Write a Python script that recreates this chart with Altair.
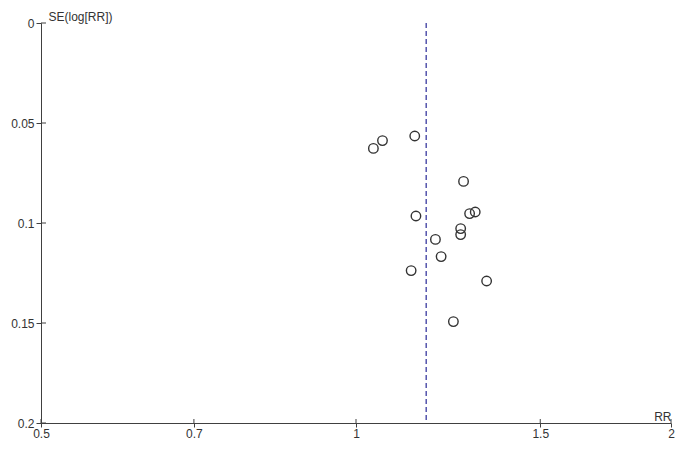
import altair as alt
import pandas as pd

rr = [1.039, 1.060, 1.138, 1.267, 1.141, 1.284, 1.300, 1.259, 1.259, 1.191, 1.206, 1.129, 1.333, 1.239]
se = [0.0627, 0.0588, 0.0565, 0.0792, 0.0965, 0.0953, 0.0945, 0.1028, 0.1058, 0.1082, 0.1168, 0.1238, 0.129, 0.1493]
pooled_rr = 1.167
x_ticks = [0.5, 0.7, 1, 1.5, 2]
y_ticks = [0, 0.05, 0.1, 0.15, 0.2]

pts = pd.DataFrame({"RR": rr, "SE": se})
pooled = pd.DataFrame({"RR": [pooled_rr], "SE": [0.0], "SE2": [0.2]})
xt = pd.DataFrame({"v": x_ticks})
yt = pd.DataFrame({"v": y_ticks})

FONT = "Liberation Sans"
AX = "#404040"

xscale = alt.Scale(type="log", domain=[0.5, 2], nice=False)
yscale = alt.Scale(domain=[0, 0.2], reverse=True, nice=False)

xaxis = alt.Axis(values=x_ticks, title="RR", grid=False, domainColor=AX, tickColor=AX,
                 tickSize=4, labelPadding=1, labelColor="#333", labelFont=FONT, labelFontSize=12,
                 titleFont=FONT, titleFontSize=12, titleFontWeight="normal", titleColor="#333",
                 titleX=630, titleY=-3, titleAlign="right", titleBaseline="alphabetic",
                 labelFlush=False, labelOverlap=False, format="~g")
yaxis = alt.Axis(values=y_ticks, title="SE(log[RR])", grid=False, domainColor=AX, tickColor=AX,
                 tickSize=5, labelPadding=2, labelColor="#333", labelFont=FONT, labelFontSize=12,
                 titleFont=FONT, titleFontSize=12, titleFontWeight="normal", titleColor="#333",
                 titleAngle=0, titleX=7, titleY=-3, titleAlign="left", titleBaseline="alphabetic",
                 labelFlush=False, labelOverlap=False, format="~g")

points = alt.Chart(pts).mark_point(shape="circle", filled=False, size=90, stroke="#333",
                                   strokeWidth=1.4, opacity=1).encode(
    x=alt.X("RR:Q", scale=xscale, axis=xaxis),
    y=alt.Y("SE:Q", scale=yscale, axis=yaxis),
)

line = alt.Chart(pooled).mark_rule(color="#3a3aa0", strokeDash=[5, 3], strokeWidth=1.3).encode(
    x=alt.X("RR:Q", scale=xscale),
    y=alt.Y("SE:Q", scale=yscale),
    y2="SE2:Q",
)

xin = alt.Chart(xt).mark_rule(color=AX).encode(
    x=alt.X("v:Q", scale=xscale), y=alt.value(396), y2=alt.value(400)
)
yin = alt.Chart(yt).mark_rule(color=AX).encode(
    y=alt.Y("v:Q", scale=yscale), x=alt.value(0), x2=alt.value(5)
)

chart = alt.layer(line, xin, yin, points).properties(
    width=630, height=400,
    background="white",
    autosize=alt.AutoSizeParams(type="none"),
    padding={"left": 33, "top": 15, "right": 6, "bottom": 24},
).configure_view(stroke=None, strokeWidth=0)

chart.save("out.html", embed_options={"renderer": "svg", "actions": False})
